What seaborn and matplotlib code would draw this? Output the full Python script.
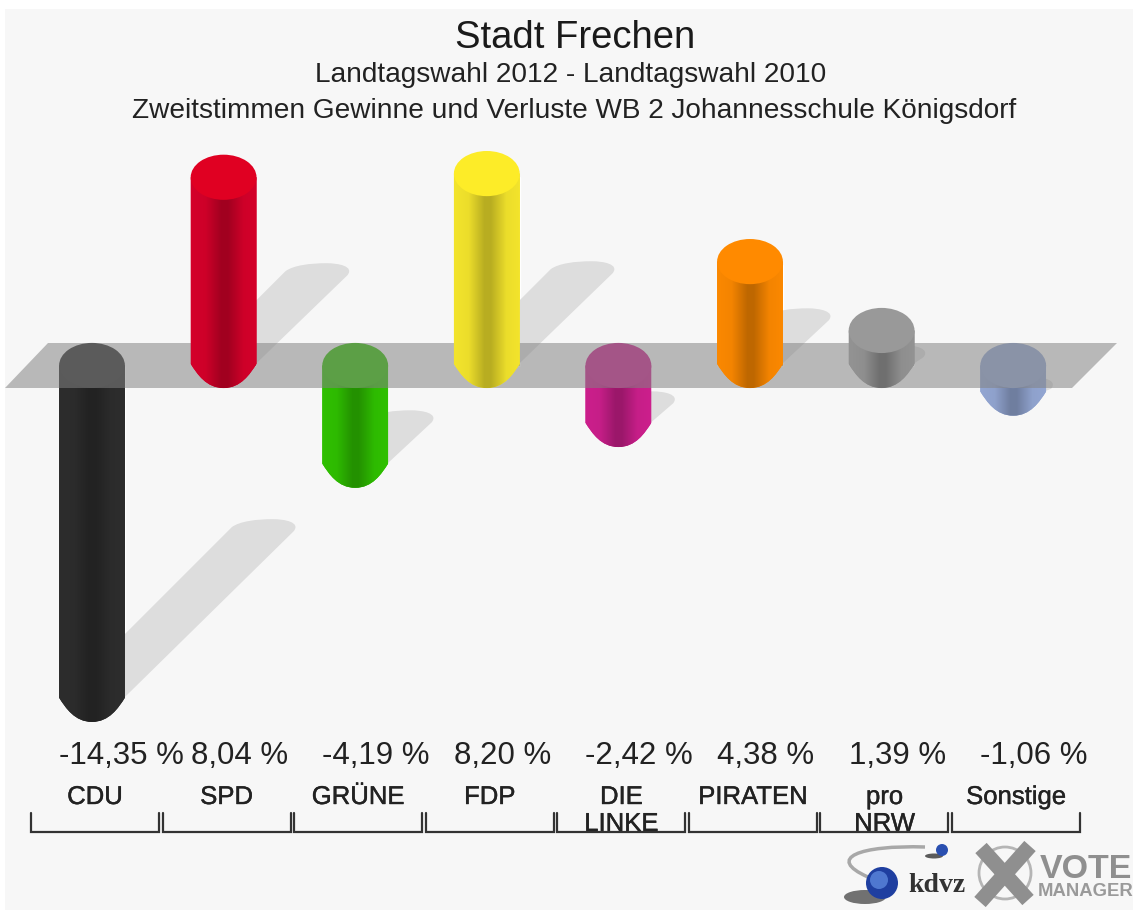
import numpy as np
import seaborn as sns
import matplotlib.pyplot as plt
import matplotlib.patheffects as pe
from matplotlib.colors import to_rgb
from matplotlib.patches import Ellipse, PathPatch, Circle, Rectangle
from matplotlib.path import Path
from matplotlib.transforms import blended_transform_factory

parties = ['CDU', 'SPD', 'GRÜNE', 'FDP', 'DIE\nLINKE', 'PIRATEN', 'pro\nNRW', 'Sonstige']
values = [-14.35, 8.04, -4.19, 8.20, -2.42, 4.38, 1.39, -1.06]
value_labels = ['-14,35 %', '8,04 %', '-4,19 %', '8,20 %', '-2,42 %', '4,38 %', '1,39 %', '-1,06 %']
body_colors = ['#2d2d2d', '#d4002a', '#2fc000', '#f3e42c', '#cc1f8c', '#fb8800', '#939393', '#93a6d2']
top_colors = ['#2d2d2d', '#e00022', '#2fc000', '#fdec28', '#cc1f8c', '#ff8a00', '#999999', '#93a6d2']

W, H = 1133, 911
PX_CAT = 131.6
PX_PCT = 23.04
CAP = 0.98
BG = '#f7f7f7'

sns.set_theme(style='white')
plt.rcParams['font.family'] = ['Liberation Sans', 'DejaVu Sans']

fig = plt.figure(figsize=(W / 100, H / 100), dpi=100, facecolor='white')

# pixel axes for the frame, the floor and the logos
px = fig.add_axes([0, 0, 1, 1], zorder=0)
px.set_xlim(0, W)
px.set_ylim(H, 0)
px.axis('off')
px.add_patch(Rectangle((5, 9), W - 5, H - 10, color=BG, lw=0))

ax = fig.add_axes([0, 0, 1, 1], zorder=1)
ax.patch.set_alpha(0)
sns.barplot(x=parties, y=values, hue=parties, palette=body_colors, width=0.5,
            saturation=1, legend=False, ax=ax)
ax.axis('off')


def body_path(cx, top, bottom):
    l, r = cx - 0.25, cx + 0.25
    start = bottom + 1.05
    verts = [(l, top), (l, start), (l + 0.05, bottom + 0.6), (cx - 0.13, bottom), (cx, bottom),
             (cx + 0.13, bottom), (r - 0.05, bottom + 0.6), (r, start), (r, top), (l, top)]
    codes = [Path.MOVETO, Path.LINETO, Path.CURVE4, Path.CURVE4, Path.CURVE4,
             Path.CURVE4, Path.CURVE4, Path.CURVE4, Path.LINETO, Path.CLOSEPOLY]
    return Path(verts, codes)


def shadow_path(cx, top, bottom):
    sx, sy = 1 / PX_CAT, 1 / PX_PCT
    dy = 0.535 * (top + CAP - bottom) / sy
    xr = cx + dy * sx
    yt = bottom + dy * sy
    back = max(xr - 63 * sx - cx, 0)
    verts = [(cx + 33 * sx, bottom + 25 * sy),
             (xr - 1 * sx, yt - 12 * sy),
             (xr + 6 * sx, yt - 3 * sy), (xr - 10 * sx, yt), (xr - 22 * sx, yt),
             (xr - 38 * sx, yt), (xr - 55 * sx, yt - 2 * sy), (xr - 63 * sx, yt - 8 * sy),
             (cx, yt - 8 * sy - back / sx * sy),
             (cx, bottom + 25 * sy),
             (cx + 33 * sx, bottom + 25 * sy)]
    codes = [Path.MOVETO, Path.LINETO, Path.CURVE4, Path.CURVE4, Path.CURVE4,
             Path.CURVE4, Path.CURVE4, Path.CURVE4, Path.LINETO, Path.LINETO, Path.CLOSEPOLY]
    return Path(verts, codes)


shade_pos = np.linspace(0, 1, 66)
shade = np.interp(shade_pos, [0, 0.22, 0.46, 0.56, 0.8, 1], [1, 0.97, 0.76, 0.76, 0.97, 1])

for bar, body, cap in zip(list(ax.patches), body_colors, top_colors):
    cx = bar.get_x() + bar.get_width() / 2
    v = bar.get_y() + bar.get_height()
    bar.set_zorder(0.5)
    if v > 0:
        top, bottom, z = v + 0.13, -CAP, 5
    else:
        top, bottom, z = 0, v - 1.12, 2
    ax.add_patch(PathPatch(shadow_path(cx, top, bottom), color='#dddddd', lw=0, zorder=1))
    patch = PathPatch(body_path(cx, top, bottom), color=body, lw=0, zorder=z)
    ax.add_patch(patch)
    grad = np.outer(shade, to_rgb(body)).reshape(1, -1, 3)
    im = ax.imshow(grad, extent=(cx - 0.25, cx + 0.25, bottom, top), aspect='auto',
                   zorder=z + 0.1, interpolation='bilinear')
    im.set_clip_path(patch)
    ax.add_patch(Ellipse((cx, top), 0.5, 2 * CAP, color=cap, lw=0, zorder=z + 0.2))

# grey floor, in front of the bars that point down
ax.fill([48, 1117, 1072, 5], [343, 343, 388, 388], color='#838383', alpha=0.54, lw=0,
        transform=px.transData, zorder=3)

ax.set_xlim(-92 / PX_CAT, (W - 92) / PX_CAT)
ax.set_ylim(-(H - 365.5) / PX_PCT, 365.5 / PX_PCT)

label_trans = blended_transform_factory(ax.transData, px.transData)
soft = [pe.withStroke(linewidth=0.3, foreground='#222222')]
for i, (name, lab) in enumerate(zip(parties, value_labels)):
    ax.text(i - 0.25, 755.5, lab, transform=label_trans, ha='left', va='center',
            fontsize=22.5, color='#222222')
    ax.text(i + 0.023, 785, name, transform=label_trans, ha='center', va='top',
            fontsize=18.5, color='#222222', linespacing=1.15, path_effects=soft)
    px_left = 31 + 131.5 * i
    ax.plot([px_left, px_left, px_left + 128, px_left + 128], [813, 832, 832, 813], color='#333333',
            lw=1.6, transform=px.transData, zorder=6, solid_joinstyle='miter')

# titles
px.text(575, 38, 'Stadt Frechen', ha='center', va='center', fontsize=27.5, color='#1a1a1a')
px.text(571, 75, 'Landtagswahl 2012 - Landtagswahl 2010', ha='center', va='center', fontsize=20.15, color='#222222')
px.text(574, 111, 'Zweitstimmen Gewinne und Verluste WB 2 Johannesschule Königsdorf', ha='center', va='center',
        fontsize=20.2, color='#222222')

# logos
swoosh = Path([(925, 847), (860, 845), (825, 858), (868, 877)],
              [Path.MOVETO, Path.CURVE4, Path.CURVE4, Path.CURVE4])
px.add_patch(PathPatch(swoosh, fill=False, edgecolor='#a8a8a8', lw=2.5))
px.add_patch(Ellipse((865, 897), 42, 14, color='#444444', lw=0, alpha=0.75))
px.add_patch(Circle((882, 883), 16, color='#1f3fa0', lw=0))
px.add_patch(Circle((879, 880), 9, color='#4f78d0', lw=0))
px.add_patch(Ellipse((934, 856), 18, 5, color='#333333', lw=0, alpha=0.8))
px.add_patch(Circle((942, 850), 6, color='#2a4fb0', lw=0))
px.text(937, 885, 'kdvz', ha='center', va='center', fontsize=20, fontweight='bold',
        family='Liberation Serif', color='#333333')
px.add_patch(Circle((1005, 873), 26, fill=False, edgecolor='#b5b5b5', lw=2))
px.plot([981, 1028], [848, 900], color='#8f8f8f', lw=11, solid_capstyle='butt')
px.plot([1030, 980], [846, 902], color='#8f8f8f', lw=11, solid_capstyle='butt')
px.text(1040, 870, 'VOTE', ha='left', va='center', fontsize=24.5, fontweight='bold', color='#8f8f8f')
px.text(1038, 892, 'MANAGER', ha='left', va='center', fontsize=13.3, fontweight='bold', color='#9a9a9a')

fig.savefig('out.png', dpi=100)
